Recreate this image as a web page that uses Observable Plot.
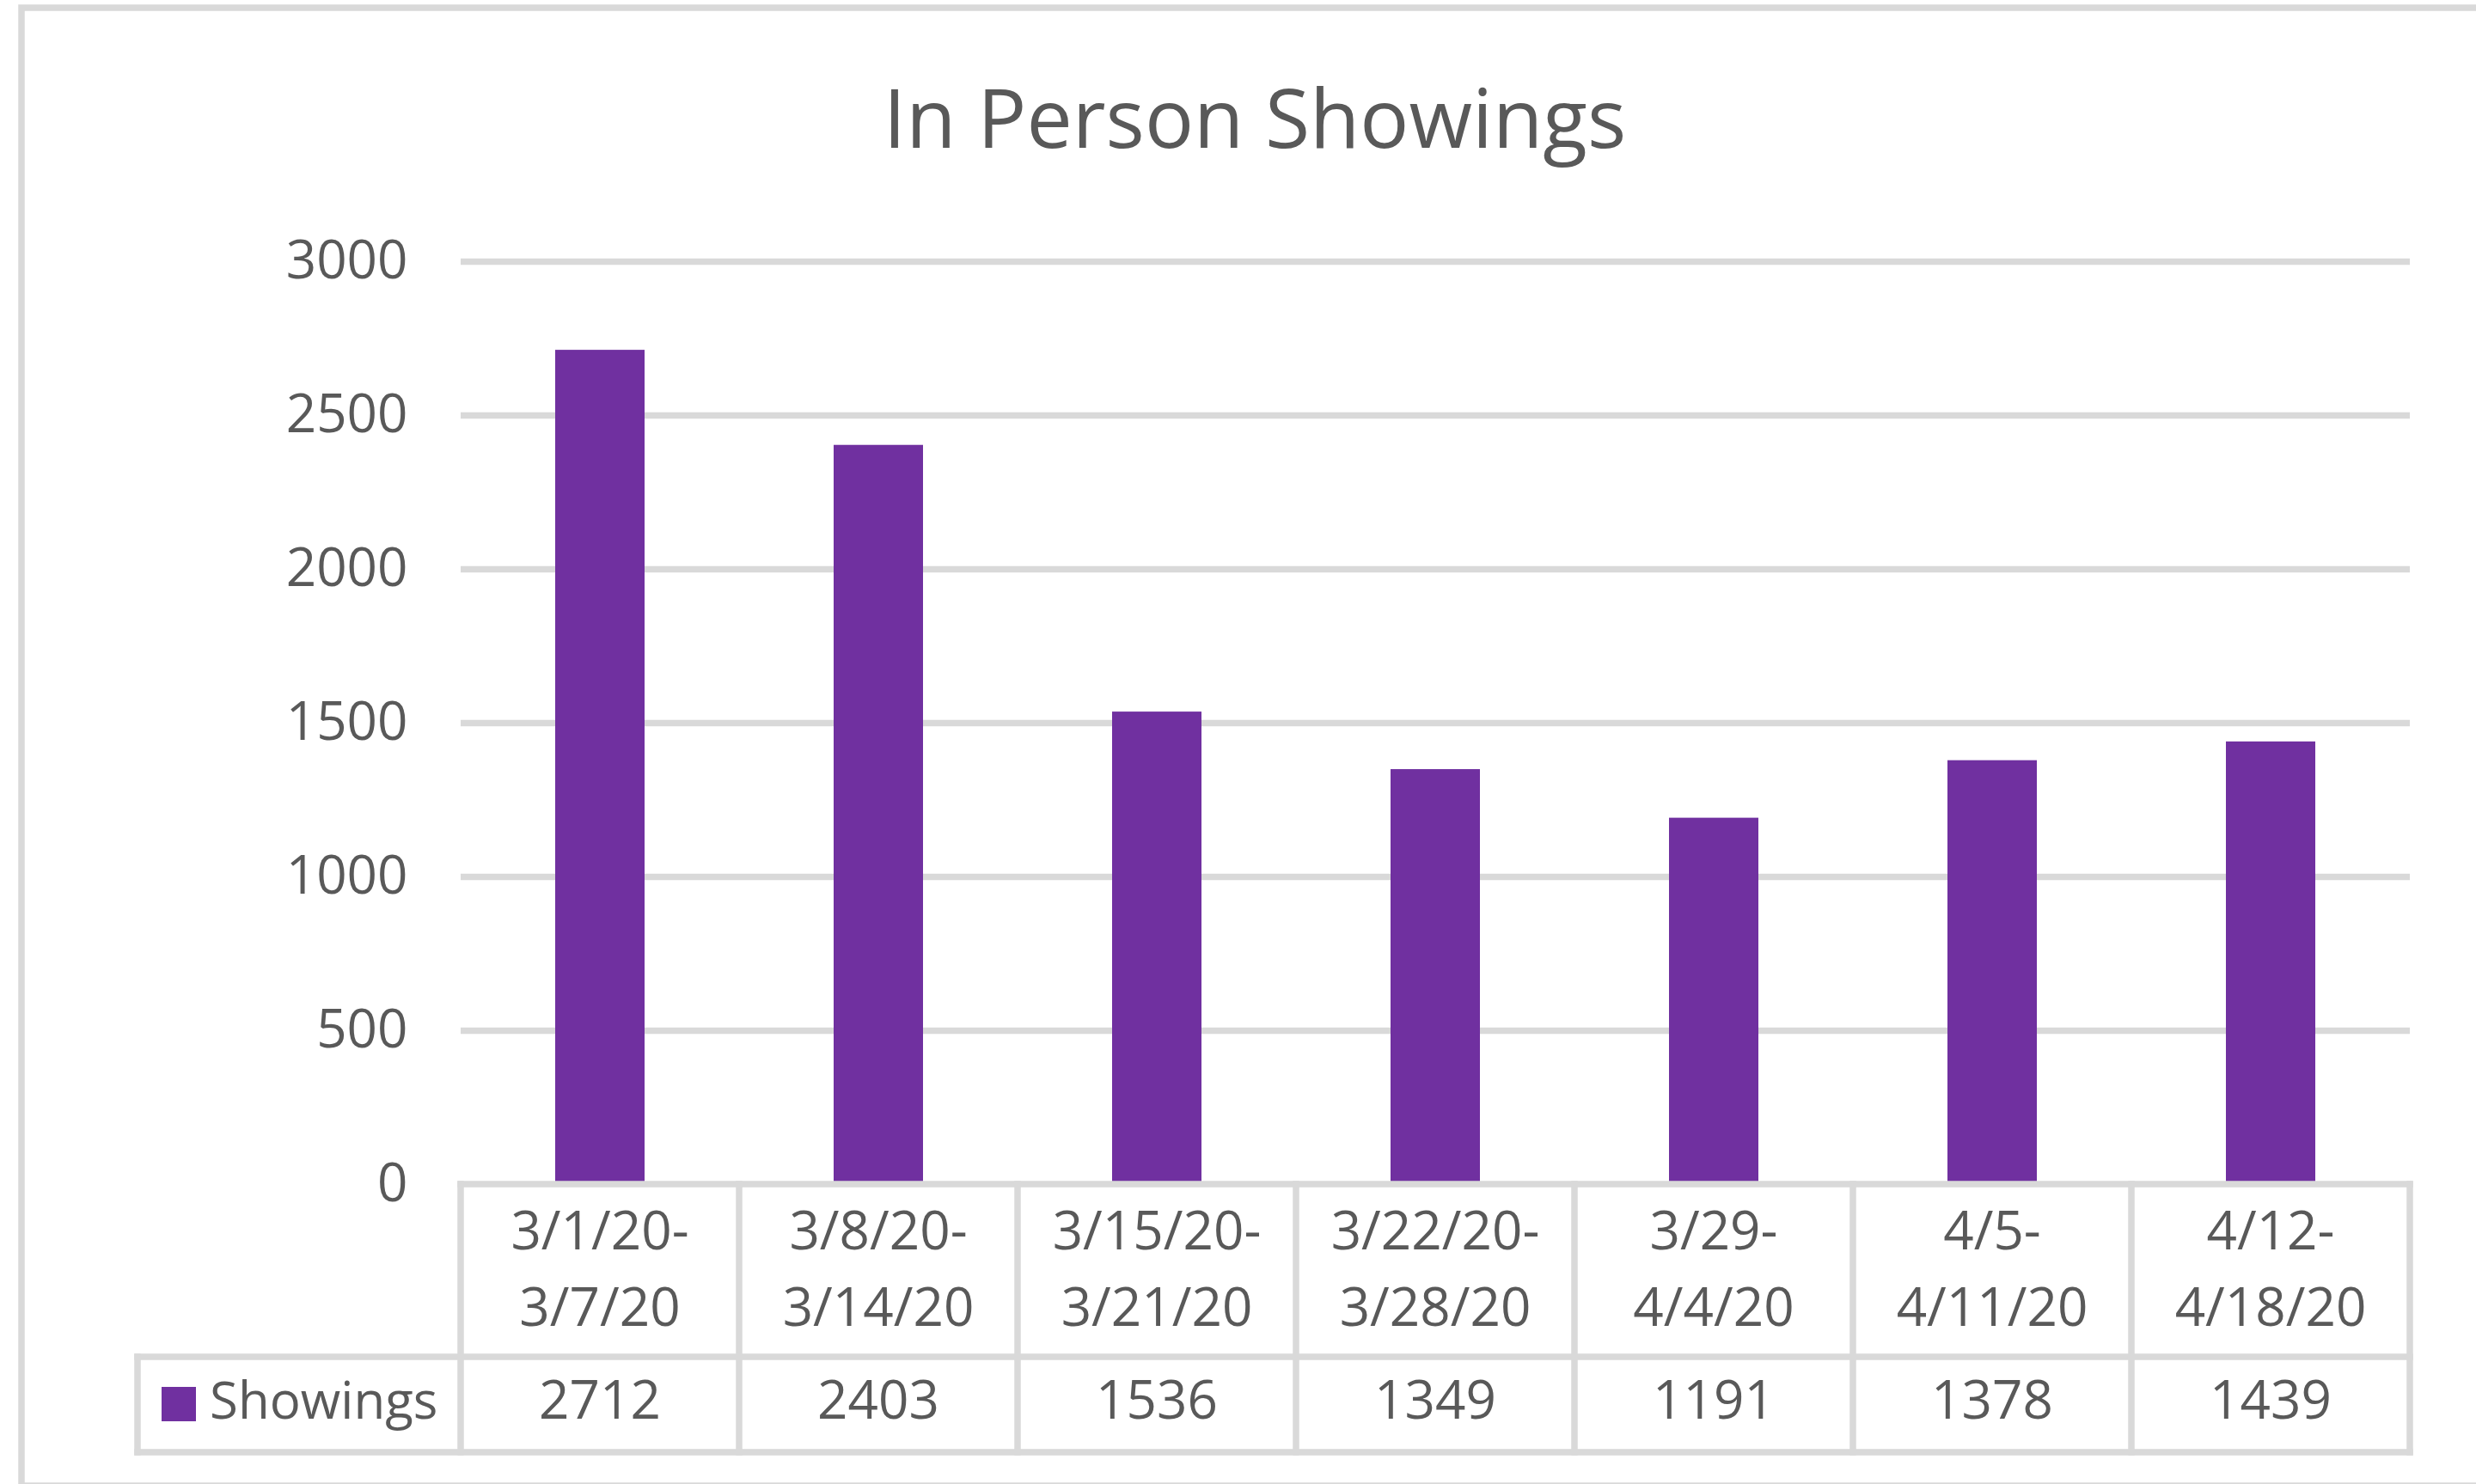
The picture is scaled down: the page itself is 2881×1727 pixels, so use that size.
<!DOCTYPE html>
<html><head><meta charset="utf-8">
<script src="https://cdn.jsdelivr.net/npm/d3@7"></script>
<script src="https://cdn.jsdelivr.net/npm/@observablehq/plot@0.6"></script>
<style>html,body{margin:0;padding:0;background:#fff}svg{display:block}</style>
</head><body><div id="chart"></div>
<script>
const chartTitle = "In Person Showings";
const seriesName = "Showings";
const weekStart = ["3/1/20-", "3/8/20-", "3/15/20-", "3/22/20-", "3/29-", "4/5-", "4/12-"];
const weekEnd = ["3/7/20", "3/14/20", "3/21/20", "3/28/20", "4/4/20", "4/11/20", "4/18/20"];
const showings = [2712, 2403, 1536, 1349, 1191, 1378, 1439];
const yTicks = [0, 500, 1000, 1500, 2000, 2500, 3000];

const data = weekStart.map((s, i) => ({cat: s + " " + weekEnd[i], start: s, end: weekEnd[i], value: showings[i]}));

const W = 2881, H = 1727;
const gridColor = "#d9d9d9", textColor = "#595959", barColor = "#7030a0";
const fontFamily = "'Open Sans', sans-serif";
const fs = 62;

const plot = Plot.plot({
  width: W, height: H,
  marginLeft: 536, marginRight: 77, marginTop: 304, marginBottom: 349,
  style: {fontFamily, fontSize: fs + "px", color: textColor, background: "#fff", overflow: "visible"},
  x: {domain: data.map(d => d.cat), paddingInner: 0.68, paddingOuter: 0.34, axis: null},
  y: {domain: [0, 3000], axis: null, label: null},
  marks: [
    Plot.ruleY(yTicks.filter(t => t > 0), {stroke: gridColor, strokeWidth: 7.5}),
    Plot.barY(data, {x: "cat", y: "value", fill: barColor}),
    Plot.axisY(yTicks, {tickSize: 0, tickPadding: 62, fontSize: fs, fill: textColor, label: null, tickFormat: d => String(d)})
  ]
});

const svg = d3.select(plot);
const xs = plot.scale("x");
const ys = plot.scale("y");
const step = xs.step, bw = xs.bandwidth;
const center = c => xs.apply(c) + bw / 2;
const colLeft = c => center(c) - step / 2;
const y0 = ys.apply(0);
const rowMid = y0 + 201, rowBottom = y0 + 312;
const legendLeft = 160;
const tableLeft = colLeft(data[0].cat);
const tableRight = colLeft(data[data.length - 1].cat) + step;

const g = svg.append("g");
const line = (x1, y1, x2, y2) => g.append("line").attr("x1", x1).attr("y1", y1).attr("x2", x2).attr("y2", y2)
  .attr("stroke", gridColor).attr("stroke-width", 7.5).attr("stroke-linecap", "square");

line(tableLeft, y0, tableRight, y0);
line(legendLeft, rowMid, tableRight, rowMid);
line(legendLeft, rowBottom, tableRight, rowBottom);
line(legendLeft, rowMid, legendLeft, rowBottom);
data.forEach(d => line(colLeft(d.cat), y0, colLeft(d.cat), rowBottom));
line(tableRight, y0, tableRight, rowBottom);

const t = svg.append("g").attr("font-family", fontFamily).attr("font-size", fs).attr("fill", textColor).attr("text-anchor", "middle");
data.forEach(d => {
  t.append("text").attr("x", center(d.cat)).attr("y", y0 + 76).text(d.start);
  t.append("text").attr("x", center(d.cat)).attr("y", y0 + 165).text(d.end);
  t.append("text").attr("x", center(d.cat)).attr("y", y0 + 273).text(String(d.value));
});

svg.append("rect").attr("x", 188).attr("y", y0 + 236).attr("width", 40).attr("height", 40).attr("fill", barColor);
svg.append("text").attr("x", 244).attr("y", y0 + 273).attr("text-anchor", "start").attr("font-family", fontFamily).attr("font-size", 60)
  .attr("fill", textColor).text(seriesName);

svg.append("text").attr("x", 1460).attr("y", 172).attr("text-anchor", "middle").attr("font-family", fontFamily)
  .attr("font-size", 95).attr("fill", textColor).text(chartTitle);

svg.append("rect").attr("x", 25).attr("y", 9).attr("width", 3000).attr("height", 1720)
  .attr("fill", "none").attr("stroke", gridColor).attr("stroke-width", 7.5);

document.getElementById("chart").appendChild(plot);
</script>
</body></html>
